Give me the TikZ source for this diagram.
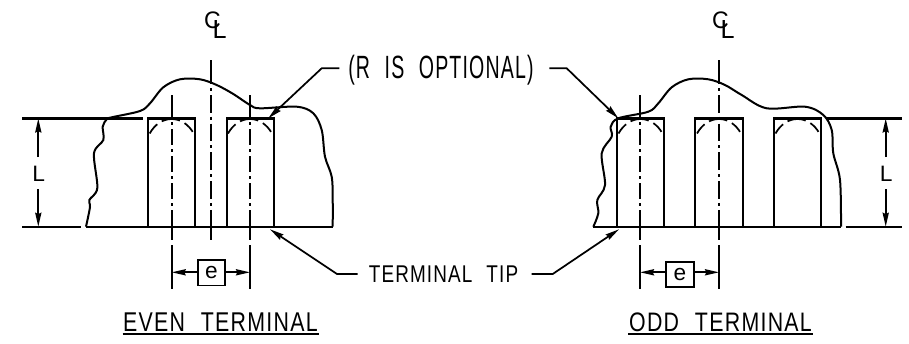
\documentclass[tikz,border=0pt]{standalone}
\usepackage{graphicx}
\usepackage{fontspec}
\setmainfont{Liberation Sans}[LetterSpace=6,WordSpace=2.2]
\newfontfamily\plainf{Liberation Sans}
\usetikzlibrary{arrows.meta}
\tikzset{
  obj/.style={line width=1.6pt,line join=miter},
  thinl/.style={line width=1.35pt},
  cdashshort/.style={line width=1.35pt,dash pattern=on 12pt off 3pt on 2.25pt off 3pt,dash phase=12pt},
  cdashlong/.style={line width=1.35pt,dash pattern=on 13.3pt off 3pt on 2.25pt off 3pt,dash phase=13.3pt},
  tip/.style={-{Stealth[length=10.5pt,width=4.6pt,inset=1pt]},line width=1.3pt},
  lbl/.style={inner sep=0pt,outer sep=0pt},
  ebox/.style={draw,line width=1.35pt,minimum width=20.5pt,minimum height=19pt,inner sep=0pt,font=\plainf\fontsize{17}{17}\selectfont},
  blob/.style={line width=1.5pt,smooth,tension=0.55},
  arcd/.style={line width=1.3pt,dash pattern=on 9pt off 4pt on 14pt off 4pt},
}
\newcommand{\terminalat}[2]{% left x, right x
  \draw[obj] (#1,227) -- (#1,118.5) -- (#2,118.5) -- (#2,227);
}
\newcommand{\tiparc}[1]{%
  \draw[arcd] (#1-22,133.5) .. controls (#1-17,124.5) and (#1-9,119) .. (#1,119) .. controls (#1+9,119) and (#1+17,124.5) .. (#1+22,133.5);
}
\newcommand{\axisshort}[1]{%
  \draw[thinl] (#1,95) -- (#1,118);
  \draw[cdashshort] (#1,118) -- (#1,210);
  \draw[thinl] (#1,210) -- (#1,240);
}
\newcommand{\axislong}[1]{%
  \draw[thinl] (#1,60) -- (#1,84);
  \draw[cdashlong] (#1,84) -- (#1,210);
  \draw[thinl] (#1,210) -- (#1,240);
}
\begin{document}
\begin{tikzpicture}[x=0.75pt,y=-0.75pt]
\useasboundingbox (0,0) rectangle (909,343);
% ---- Left (even)
\draw[obj] (22,118.5) -- (143,118.5);
\draw[obj] (22,226.7) -- (81,226.7);
\draw[obj] (86,226.7) -- (333,226.7);
\terminalat{148}{195}
\terminalat{227}{274}
\tiparc{171.7}
\tiparc{250}
\draw[blob] plot coordinates {(86,226.7)(90,207)(89.3,200)(97.3,188)(94,153.3)(103.3,140)(102.7,126.7)(106.7,119.3)(111.7,117.3)(140,111)(150,103.3)(163.3,87.3)(180,79.3)(200,79.3)(216.7,85)(233.3,94)(250,105)(260,108.3)(296.7,106.7)(313.3,113.3)(321.7,130)(325,156.7)(331.7,176.7)(332.7,200)(332.7,226.7)};
\axisshort{171.7}
\axisshort{250}
\axislong{211}
\draw[thinl] (171.7,245) -- (171.7,288.5);
\draw[thinl] (250,245) -- (250,288.5);
\node[ebox] (eL) at (211.4,272.8) {e};
\coordinate (eLa) at (171.7,272.3);
\coordinate (eLb) at (250,272.3);
\draw[tip] (eL.west|-eLa) -- (eLa);
\draw[tip] (eL.east|-eLb) -- (eLb);
\node[lbl] (LL) at (38.8,174) {\resizebox{9.5pt}{11.5pt}{\plainf L}};
\coordinate (LLt) at (38.3,118.5);
\coordinate (LLb) at (38.3,226.7);
\draw[tip] (38.3,157) -- (LLt);
\draw[tip] (38.3,189) -- (LLb);
\node[lbl] (CL1) at (212.5,20.3) {\resizebox{12.5pt}{12.5pt}{\plainf C}};
\node[lbl] (CL2) at (219.7,29) {\resizebox{10.5pt}{13.5pt}{\plainf L}};
\node[lbl] (evenlbl) at (220.4,322.3) {\resizebox{146pt}{14pt}{EVEN TERMINAL}};
\draw[thinl] (122.7,334.3) -- (319,334.3);
% ---- Right (odd)
\draw[obj] (826.7,118.5) -- (902,118.5);
\draw[obj] (593,226.7) -- (841,226.7);
\draw[obj] (845.7,226.7) -- (902,226.7);
\terminalat{617}{664.3}
\terminalat{695.3}{743}
\terminalat{773.7}{821.3}
\tiparc{640.5}
\tiparc{719}
\tiparc{797.5}
\draw[blob] plot coordinates {(593.3,226.7)(598.3,213.3)(597.3,200)(605,185)(601.7,153.3)(611.7,136.7)(610.7,126.7)(618.3,118.3)(648.3,111.7)(658.3,103.3)(671.7,87.3)(688.3,79.3)(708.3,79.3)(725,85)(741.7,95)(766.7,108.3)(805,106.7)(823.3,115)(831.7,130)(833.3,153.3)(840,180)(841,226.7)};
\axisshort{640}
\axislong{719}
\draw[thinl] (640,245) -- (640,288.5);
\draw[thinl] (719,245) -- (719,288.5);
\node[ebox] (eR) at (680,274.5) {e};
\coordinate (eRa) at (640,272.3);
\coordinate (eRb) at (719,272.3);
\draw[tip] (eR.west|-eRa) -- (eRa);
\draw[tip] (eR.east|-eRb) -- (eRb);
\node[lbl] (LR) at (886.3,174) {\resizebox{9.5pt}{11.5pt}{\plainf L}};
\coordinate (LRt) at (885.7,118.5);
\coordinate (LRb) at (885.7,226.7);
\draw[tip] (885.7,157) -- (LRt);
\draw[tip] (885.7,189) -- (LRb);
\node[lbl] (CR1) at (720.5,20.3) {\resizebox{12.5pt}{12.5pt}{\plainf C}};
\node[lbl] (CR2) at (727.7,29) {\resizebox{10.5pt}{13.5pt}{\plainf L}};
\node[lbl] (oddlbl) at (720.5,322.3) {\resizebox{137pt}{14pt}{ODD TERMINAL}};
\draw[thinl] (628,334.3) -- (812.7,334.3);
% ---- Leaders
\node[lbl] (opt) at (441,70) {\resizebox{139pt}{17.5pt}{(R IS OPTIONAL)}};
\coordinate (optLt) at (268.3,118.3);
\coordinate (optRt) at (618.3,118.3);
\draw[tip] (339.3,68.3) -- (321.7,68.3) -- (optLt);
\draw[tip] (549.3,68.3) -- (566.7,68.3) -- (optRt);
\node[lbl] (tipl) at (443.5,274.5) {\resizebox{112pt}{12.5pt}{TERMINAL TIP}};
\coordinate (tipLt) at (270,229.3);
\coordinate (tipRt) at (619,229.3);
\draw[tip] (357.7,274) -- (337,274) -- (tipLt);
\draw[tip] (531.7,274) -- (552.7,274) -- (tipRt);
\end{tikzpicture}
\end{document}
